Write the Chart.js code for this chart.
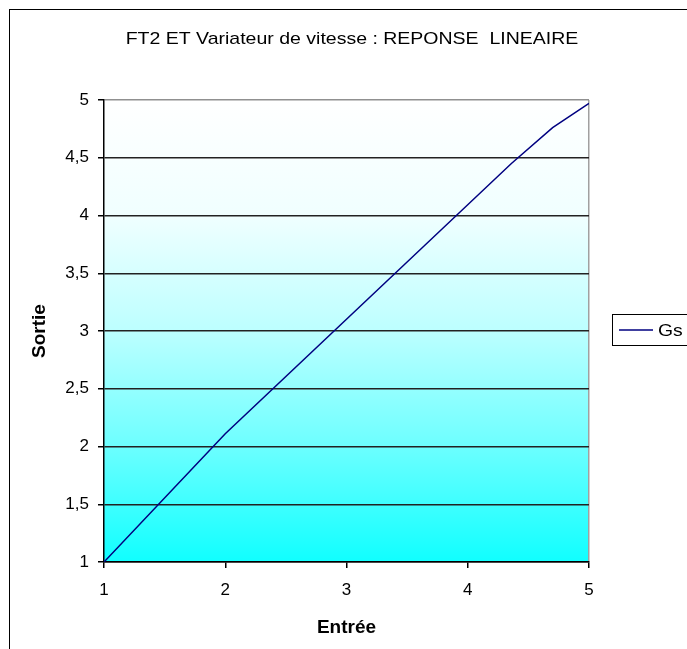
<!DOCTYPE html>
<html>
<head>
<meta charset="utf-8">
<script src="https://cdn.jsdelivr.net/npm/chart.js@4/dist/chart.umd.min.js"></script>
<style>
html,body{margin:0;padding:0;background:#fff;}
#wrap{width:687px;height:649px;}
</style>
</head>
<body>
<div id="wrap"><canvas id="c" width="687" height="649"></canvas></div>
<script>
// Data
const entree = [1, 2, 4.36, 4.7, 5];
const sortie = [1, 2.11, 4.45, 4.76, 4.97];
const seriesLabel = 'Gs';
const chartTitle = 'FT2 ET Variateur de vitesse : REPONSE  LINEAIRE';
const xAxisTitle = 'Entrée';
const yAxisTitle = 'Sortie';
const xTicks = [1, 2, 3, 4, 5];
const yTicks = [1, 1.5, 2, 2.5, 3, 3.5, 4, 4.5, 5];

const FONT = "'Liberation Sans', Arial, sans-serif";
const points = entree.map((x, i) => ({x: x, y: sortie[i]}));

function stretchedText(ctx, text, x, y, sx, align) {
  ctx.save();
  ctx.translate(x, y);
  ctx.scale(sx, 1);
  ctx.textAlign = align;
  ctx.textBaseline = 'middle';
  ctx.fillText(text, 0, 0);
  ctx.restore();
}

const bgPlugin = {
  id: 'bg',
  beforeDraw(chart) {
    const {ctx, chartArea: a} = chart;
    ctx.save();
    ctx.fillStyle = '#fff';
    ctx.fillRect(0, 0, chart.width, chart.height);
    // outer frame
    ctx.strokeStyle = '#000';
    ctx.lineWidth = 1;
    ctx.strokeRect(9.5, 9.5, 800, 800);
    // plot area gradient
    const g = ctx.createLinearGradient(0, a.top, 0, a.bottom);
    g.addColorStop(0, '#ffffff');
    g.addColorStop(0.25, '#f0ffff');
    g.addColorStop(0.5, '#bcffff');
    g.addColorStop(0.75, '#6cffff');
    g.addColorStop(1, '#10ffff');
    ctx.fillStyle = g;
    ctx.fillRect(a.left, a.top, a.right - a.left, a.bottom - a.top);
    // title
    ctx.fillStyle = '#000';
    ctx.font = '17px ' + FONT;
    stretchedText(ctx, chartTitle, 352, 39, 1.147, 'center');
    ctx.restore();
  },
  afterDraw(chart) {
    const {ctx} = chart;
    const ds = chart.data.datasets[0];
    ctx.save();
    ctx.fillStyle = '#fff';
    ctx.fillRect(612.5, 314.5, 200, 31);
    ctx.strokeStyle = '#000';
    ctx.lineWidth = 1;
    ctx.strokeRect(612.5, 314.5, 200, 31);
    ctx.strokeStyle = ds.borderColor;
    ctx.lineWidth = 1.5;
    ctx.beginPath();
    ctx.moveTo(619, 330);
    ctx.lineTo(653, 330);
    ctx.stroke();
    ctx.fillStyle = '#000';
    ctx.font = '17px ' + FONT;
    stretchedText(ctx, ds.label, 658, 331, 1.14, 'left');
    ctx.restore();
  }
};

new Chart(document.getElementById('c'), {
  type: 'scatter',
  data: {
    datasets: [{
      label: seriesLabel,
      data: points,
      showLine: true,
      borderColor: '#000080',
      backgroundColor: '#000080',
      borderWidth: 1.5,
      pointRadius: 0,
      tension: 0
    }]
  },
  options: {
    responsive: false,
    animation: false,
    devicePixelRatio: 1,
    layout: {padding: {top: 100, left: 10, right: 98, bottom: 10}},
    plugins: {
      legend: {display: false},
      tooltip: {enabled: false},
      title: {display: false}
    },
    scales: {
      x: {
        type: 'linear',
        min: 1, max: 5,
        afterBuildTicks(s) { s.ticks = xTicks.map(v => ({value: v})); },
        afterFit(s) { s.height = 77; },
        border: {display: true, color: '#000', width: 1.5},
        grid: {
          drawOnChartArea: true,
          color: c => (c.tick && c.tick.value === 5) ? '#a0a0a0' : 'rgba(0,0,0,0)',
          tickColor: '#000',
          tickLength: 6,
          lineWidth: 1.5
        },
        ticks: {color: '#000', font: {family: FONT, size: 17}, padding: 12, maxRotation: 0},
        title: {display: true, text: xAxisTitle, color: '#000', font: {family: FONT, size: 19, weight: 'bold'}, padding: {top: 7, bottom: 0}}
      },
      y: {
        type: 'linear',
        min: 1, max: 5,
        afterBuildTicks(s) { s.ticks = yTicks.map(v => ({value: v})); },
        afterFit(s) { s.width = 94; },
        border: {display: true, color: '#000', width: 1.5},
        grid: {
          color: c => (c.tick && c.tick.value === 5) ? '#909090' : '#222',
          tickColor: '#000',
          tickLength: 6,
          lineWidth: 1.5
        },
        ticks: {color: '#000', font: {family: FONT, size: 17}, padding: 9,
          callback: v => String(v).replace('.', ',')},
        title: {display: true, text: yAxisTitle, color: '#000', font: {family: FONT, size: 19, weight: 'bold'}, padding: {top: 18, bottom: 0}}
      }
    }
  },
  plugins: [bgPlugin]
});
</script>
</body>
</html>
